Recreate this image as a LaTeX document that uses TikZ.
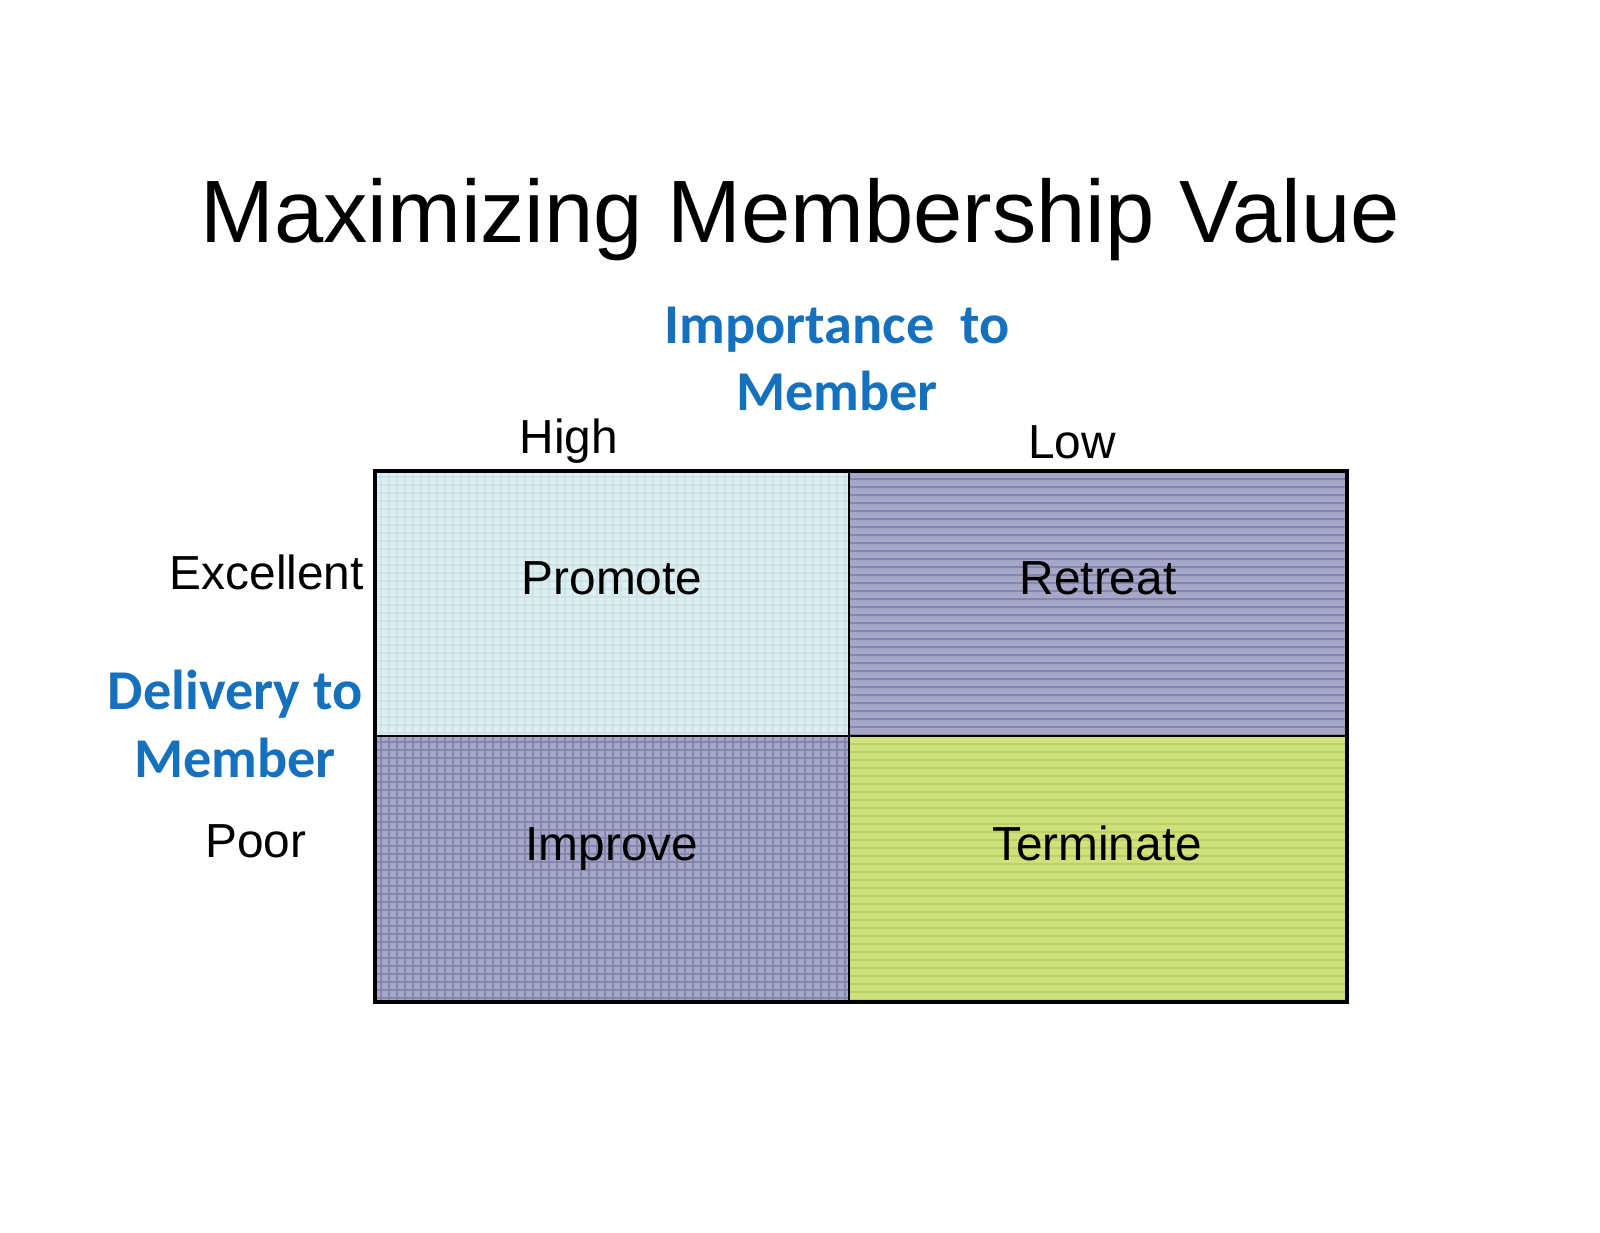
\documentclass[tikz,border=0pt]{standalone}
\usepackage{fontspec}
\setmainfont{Liberation Sans}
\newfontfamily\calfont{Carlito}
\definecolor{axisblue}{HTML}{1570BE}
\definecolor{promotefill}{HTML}{DDEFF1}
\definecolor{promoteline}{HTML}{CDE3E6}
\definecolor{purplefill}{HTML}{A6A6C6}
\definecolor{purpleline}{HTML}{8585AE}
\definecolor{greenfill}{HTML}{CFE17A}
\definecolor{greenline}{HTML}{BBCF64}
\begin{document}
\begin{tikzpicture}[x=0.25mm,y=-0.25mm,
  titletext/.style={font=\fontsize{63}{70}\selectfont, anchor=base, inner sep=0pt},
  labeltext/.style={font=\fontsize{34}{40}\selectfont, anchor=base, inner sep=0pt},
  axistext/.style={font=\calfont\bfseries\fontsize{40}{47}\selectfont, text=axisblue, anchor=base, inner sep=0pt},
  cellline/.style={line width=0.5mm, black},
  outerline/.style={line width=1mm, black},
  hatch/.style={line width=0.28mm}]
\useasboundingbox (0,0) rectangle (1600,1232);
% cell fills
\fill[promotefill] (375,471) rectangle (849,736);
\fill[purplefill] (849,471) rectangle (1347,736);
\fill[purplefill] (375,736) rectangle (849,1002);
\fill[greenfill] (849,736) rectangle (1347,1002);
% Promote: faint grid
\begin{scope}
  \clip (375,471) rectangle (849,736);
  \foreach \x in {381,389,...,849} \draw[hatch,promoteline] (\x,471) -- (\x,736);
  \foreach \y in {477,485,...,736} \draw[hatch,promoteline] (375,\y) -- (849,\y);
\end{scope}
% Retreat: horizontal lines
\begin{scope}
  \clip (849,471) rectangle (1347,736);
  \foreach \y in {479,487,...,736} \draw[hatch,purpleline] (849,\y) -- (1347,\y);
\end{scope}
% Improve: grid
\begin{scope}
  \clip (375,736) rectangle (849,1002);
  \foreach \x in {381,389,...,849} \draw[hatch,purpleline] (\x,736) -- (\x,1002);
  \foreach \y in {742,750,...,1002} \draw[hatch,purpleline] (375,\y) -- (849,\y);
\end{scope}
% Terminate: horizontal lines
\begin{scope}
  \clip (849,736) rectangle (1347,1002);
  \foreach \y in {744,752,...,1002} \draw[hatch,greenline] (849,\y) -- (1347,\y);
\end{scope}
% cell borders
\coordinate (tl) at (375,471);
\coordinate (tm) at (849,471);
\coordinate (tr) at (1347,471);
\coordinate (ml) at (375,736);
\coordinate (mr) at (1347,736);
\coordinate (bl) at (375,1002);
\coordinate (bm) at (849,1002);
\coordinate (br) at (1347,1002);
\draw[cellline] (tm) -- (bm);
\draw[cellline] (ml) -- (mr);
\draw[outerline] (tl) -- (tr) -- (br) -- (bl) -- cycle;
% texts
\node[titletext] (title) at (800,242) {Maximizing Membership Value};
\node[axistext] (imp1) at (837,343) {Importance\ \ to};
\node[axistext] (imp2) at (837,410) {Member};
\node[labeltext] (high) at (569,453) {High};
\node[labeltext] (low) at (1072,458) {Low};
\node[labeltext, anchor=base east] (excellent) at (364,589) {Excellent};
\node[axistext] (del1) at (235,709) {Delivery to};
\node[axistext] (del2) at (235,777) {Member};
\node[labeltext] (poor) at (256,857) {Poor};
\node[labeltext] (promote) at (612,594) {Promote};
\node[labeltext] (retreat) at (1098,594) {Retreat};
\node[labeltext] (improve) at (612,860) {Improve};
\node[labeltext] (terminate) at (1097,860) {Terminate};
\end{tikzpicture}
\end{document}
